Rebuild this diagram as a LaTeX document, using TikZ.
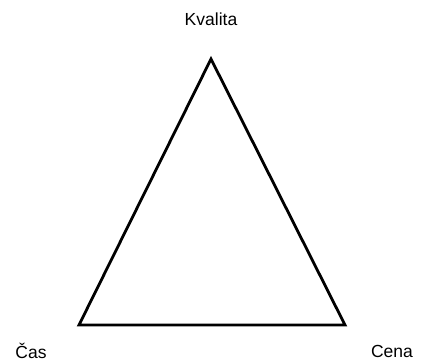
\documentclass[tikz,border=0pt]{standalone}
\usepackage{fontspec}
\setmainfont{Liberation Sans}
\usetikzlibrary{positioning}

\begin{document}
\begin{tikzpicture}[
			x=1pt, y=-1pt,
			every node/.style={font=\fontsize{17.5}{20}\selectfont},
			edge/.style={line width=2.8pt, line join=miter}
			]
			
			\useasboundingbox (0,0) rectangle (421,363);
			
			% Vrcholy trojuholnika
			\coordinate (kvalita) at (211,59);
			\coordinate (cas) at (79,325);
			\coordinate (cena) at (345,325);
			
			% Popisky
			\node (kvalitaLabel) at (211,19) {Kvalita};
			\node (casLabel) at (31,351) {Čas};
			\node (cenaLabel) at (392,351) {Cena};
			
			% Trojuholnik
			\draw[edge] (kvalita) -- (cas) -- (cena) -- cycle;
			
		\end{tikzpicture}
\end{document}
